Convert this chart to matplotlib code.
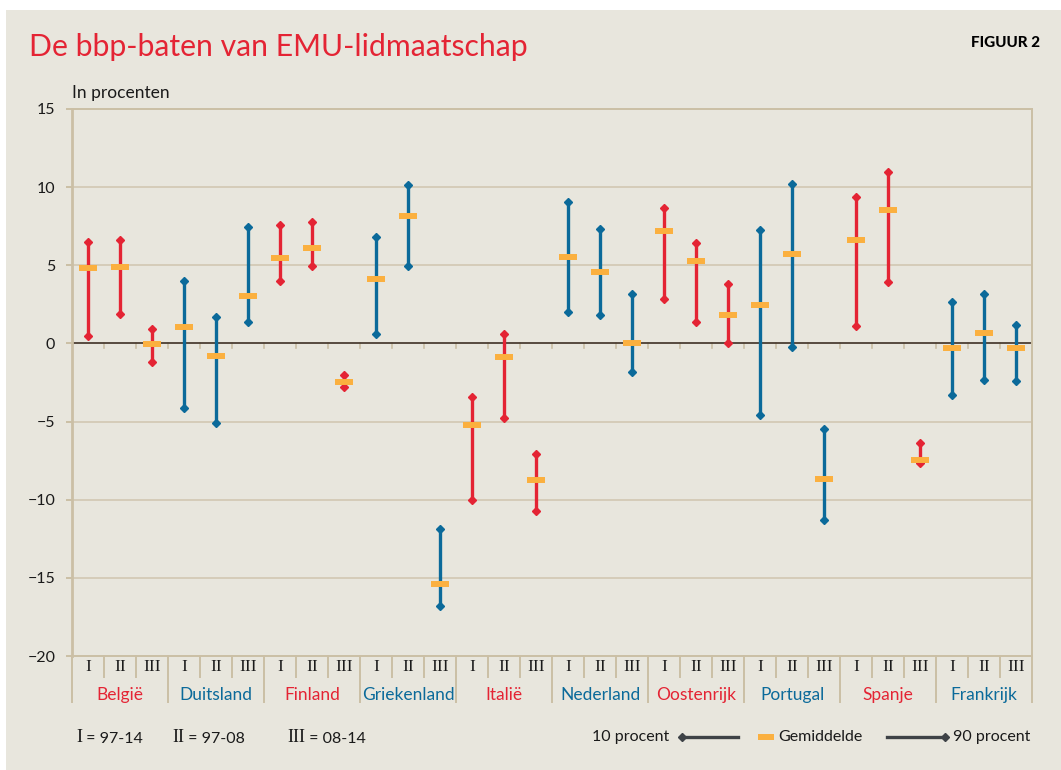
import matplotlib.pyplot as plt
from matplotlib.lines import Line2D
from matplotlib.patches import Rectangle
import numpy as np

countries = ["België", "Duitsland", "Finland", "Griekenland", "Italië",
             "Nederland", "Oostenrijk", "Portugal", "Spanje", "Frankrijk"]
periods = ["I", "II", "III"]

# 10 procent (onderkant), per land I, II, III
low = [0.5, 1.9, -1.2,
       -4.1, -5.1, 1.4,
       4.0, 4.95, -2.77,
       0.6, 4.95, -16.8,
       -10.0, -4.8, -10.7,
       2.0, 1.8, -1.8,
       2.85, 1.35, 0.0,
       -4.6, -0.25, -11.3,
       1.1, 3.9, -7.65,
       -3.33, -2.34, -2.38]
# 90 procent (bovenkant)
high = [6.5, 6.6, 0.95,
        4.0, 1.7, 7.45,
        7.6, 7.75, -2.02,
        6.8, 10.15, -11.85,
        -3.4, 0.6, -7.1,
        9.05, 7.35, 3.15,
        8.65, 6.4, 3.8,
        7.25, 10.2, -5.45,
        9.4, 11.0, -6.35,
        2.65, 3.15, 1.2]
# Gemiddelde
mean = [4.8, 4.9, -0.05,
        1.05, -0.8, 3.05,
        5.45, 6.1, -2.48,
        4.1, 8.15, -15.4,
        -5.2, -0.9, -8.75,
        5.5, 4.55, 0.0,
        7.2, 5.25, 1.85,
        2.45, 5.7, -8.65,
        6.6, 8.55, -7.45,
        -0.3, 0.65, -0.32]

RED = "#e42434"
BLUE = "#0b6a9a"
ORANGE = "#fbb03f"
BG = "#e8e6dd"
TAN = "#cbbfa5"
GRID = "#d5ccb8"
DARK = "#3e4246"
SANS = "Lato"
SERIF = "Liberation Serif"

W, H = 1061, 770
fig = plt.figure(figsize=(W / 100, H / 100), dpi=100, facecolor="white")

def fx(x):
    return x / W

def fy(y):
    return 1 - y / H

fig.add_artist(Rectangle((fx(6), 0), 1, fy(10), transform=fig.transFigure,
                         facecolor=BG, edgecolor="none", zorder=-10))

ax = fig.add_axes([fx(72), fy(656), (1032 - 72) / W, (656 - 109) / H])
ax.set_facecolor(BG)

n = len(mean)
x = np.arange(n)
colors = [RED if (i // 3) % 2 == 0 else BLUE for i in range(n)]

ax.set_xlim(-0.5, n - 0.5)
ax.set_ylim(-20, 15)

for yv in [-15, -10, -5, 5, 10]:
    ax.axhline(yv, color=GRID, lw=1.4, zorder=1)
ax.axhline(0, color="#4b3e33", lw=1.3, zorder=2)

# kleine streepjes op de nullijn
for b in np.arange(0.5, n - 0.5, 1):
    ax.plot([b, b], [0, -0.28], color=TAN, lw=1.2, zorder=1.5)

for i in range(n):
    ax.plot([x[i], x[i]], [low[i], high[i]], color=colors[i], lw=2.4,
            solid_capstyle="butt", zorder=3)
    ax.plot([x[i], x[i]], [low[i], high[i]], ls="none", marker="D",
            ms=3.9, color=colors[i], zorder=3)
ax.hlines(mean, x - 0.28, x + 0.28, color=ORANGE, lw=4.3, zorder=4)

for s in ["top", "right", "bottom"]:
    ax.spines[s].set_color(TAN)
    ax.spines[s].set_linewidth(1.4)
ax.spines["left"].set_color(TAN)
ax.spines["left"].set_linewidth(2)

ax.set_yticks(np.arange(-20, 16, 5))
ax.tick_params(axis="y", length=4, width=1.4, color=TAN, pad=8,
               labelsize=11.5, labelcolor="#1a1a1a")
for t in ax.get_yticklabels():
    t.set_fontfamily(SANS)
ax.set_xticks([])

# categorie-labels onder de as
tr = ax.get_xaxis_transform()
hax = 656 - 109
for i in range(n):
    ax.text(x[i], -11 / hax, periods[i % 3], transform=tr, ha="center",
            va="center", fontsize=12.5, fontfamily=SERIF, color="#1a1a1a")
for c, name in enumerate(countries):
    col = RED if c % 2 == 0 else BLUE
    ax.text(3 * c + 1, -39 / hax, name, transform=tr, ha="center",
            va="center", fontsize=12.5, fontfamily=SANS, color=col)
for b in np.arange(-0.5, n, 1):
    k = int(round(b + 0.5))
    depth = 46 if k % 3 == 0 else 21
    ax.plot([b, b], [0, -depth / hax], transform=tr, color=TAN, lw=1.4,
            clip_on=False, zorder=0)

# titel en kopjes
fig.text(fx(29), fy(47), "De bbp-baten van EMU-lidmaatschap", fontsize=21.7,
         fontfamily=SANS, color=RED, ha="left", va="center")
fig.text(fx(1040), fy(43), "FIGUUR 2", fontsize=11, fontweight="black",
         fontfamily=SANS, color="black", ha="right", va="center")
fig.text(fx(72), fy(93), "In procenten", fontsize=12.5, fontfamily=SANS,
         color="#1a1a1a", ha="left", va="center")

# onderste legenda
ly = fy(737)
for xs, rom, rest in [(76, "I", " = 97-14"), (172, "II", " = 97-08"),
                      (287, "III", " = 08-14")]:
    t = fig.text(fx(xs), ly, rom, fontsize=13, fontfamily=SERIF,
                 color="#1a1a1a", ha="left", va="center")
    fig.canvas.draw()
    bb = t.get_window_extent()
    fig.text(bb.x1 / W, ly - 0.002, rest, fontsize=11.5, fontfamily=SANS,
             color="#1a1a1a", ha="left", va="center")

fig.text(fx(669), ly, "10 procent", fontsize=11.5, fontfamily=SANS,
         color="#1a1a1a", ha="right", va="center")
fig.add_artist(Line2D([fx(682), fx(738)], [ly, ly], color=DARK, lw=2.4,
                      transform=fig.transFigure))
fig.add_artist(Line2D([fx(682)], [ly], color=DARK, marker="D", ms=3.9,
                      transform=fig.transFigure))
fig.add_artist(Line2D([fx(758), fx(774)], [ly, ly], color=ORANGE, lw=4.3,
                      transform=fig.transFigure, solid_capstyle="butt"))
fig.text(fx(778), ly, "Gemiddelde", fontsize=11.5, fontfamily=SANS,
         color="#1a1a1a", ha="left", va="center")
fig.add_artist(Line2D([fx(887), fx(945)], [ly, ly], color=DARK, lw=2.4,
                      transform=fig.transFigure))
fig.add_artist(Line2D([fx(945)], [ly], color=DARK, marker="D", ms=3.9,
                      transform=fig.transFigure))
fig.text(fx(953), ly, "90 procent", fontsize=11.5, fontfamily=SANS,
         color="#1a1a1a", ha="left", va="center")

fig.savefig("out.png", dpi=100, facecolor="white")
